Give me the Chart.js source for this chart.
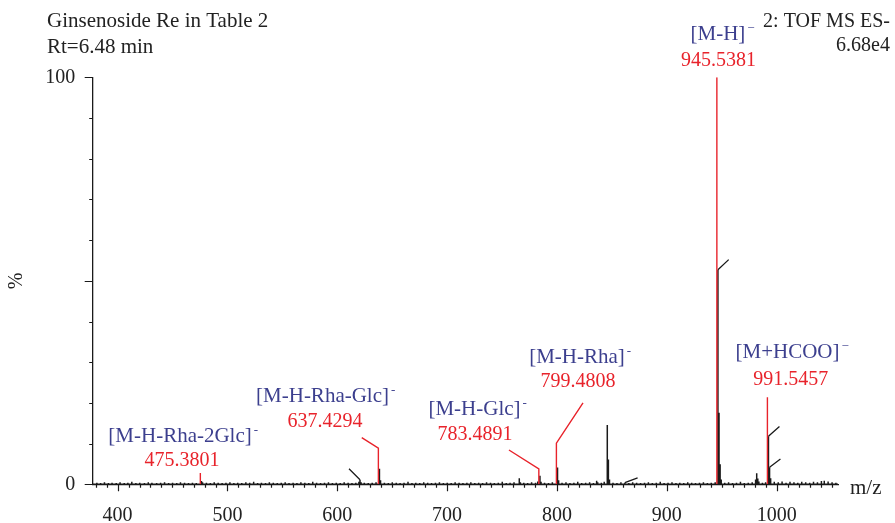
<!DOCTYPE html>
<html>
<head>
<meta charset="utf-8">
<title>Ginsenoside Re – ESI(-) TOF MS spectrum</title>
<script src="https://cdn.jsdelivr.net/npm/chart.js@4/dist/chart.umd.min.js"></script>
<style>
  html, body { margin: 0; padding: 0; background: #ffffff; }
  #spectrum { display: block; }
</style>
</head>
<body>
<canvas id="spectrum" width="895" height="523"></canvas>
<script>
// ---- Spectrum data (m/z, relative abundance %) ----
// Unlabelled centroid sticks, including baseline noise.
const peakMz = [
  381.2, 384.6, 388.1, 391.7, 395.0, 398.8, 402.3, 406.1, 409.4, 413.0,
  416.7, 420.2, 424.5, 428.0, 431.3, 435.6, 439.2, 442.8, 446.5, 450.1,
  453.9, 457.3, 461.0, 464.6, 468.2, 471.7, 476.4, 477.4, 480.9, 484.5,
  488.0, 491.6, 495.2, 498.7, 502.3, 505.9, 509.4, 513.1, 516.8, 520.3,
  523.9, 527.5, 531.0, 534.7, 538.2, 541.8, 545.4, 549.0, 552.6, 556.1,
  559.8, 563.3, 566.9, 570.5, 574.1, 577.7, 581.2, 584.8, 588.4, 592.0,
  595.6, 599.1, 602.7, 606.3, 609.9, 613.4, 616.9, 619.7, 620.7, 621.7,
  624.6, 628.2, 631.8, 635.3, 638.4, 639.4, 642.9, 646.5, 650.1, 653.7,
  657.2, 660.8, 664.4, 668.0, 671.5, 675.1, 678.7, 682.3, 685.8, 689.4,
  693.0, 696.6, 700.1, 703.7, 707.3, 710.9, 714.4, 718.0, 721.6, 725.2,
  728.7, 732.3, 735.9, 739.5, 743.0, 746.6, 750.2, 753.8, 757.3, 760.9,
  765.7, 766.7, 769.8, 773.3, 776.9, 780.5, 782.5, 784.5, 785.5, 788.7,
  792.3, 795.8, 800.5, 801.5, 804.6, 808.2, 811.8, 815.4, 818.9, 822.5,
  826.1, 829.7, 833.2, 836.1, 837.1, 840.4, 843.0, 845.8, 846.8, 847.8,
  851.0, 854.6, 858.2, 861.8, 865.4, 868.9, 872.5, 876.1, 879.7, 883.2,
  886.8, 890.4, 894.0, 897.5, 901.1, 904.7, 908.3, 911.8, 915.4, 919.0,
  922.6, 926.1, 929.7, 933.3, 936.9, 940.4, 944.0, 946.5, 947.5, 948.5,
  949.5, 952.7, 956.2, 959.8, 963.4, 967.0, 970.5, 974.1, 977.7, 980.8,
  981.8, 982.8, 983.8, 987.0, 989.9, 992.5, 993.5, 994.5, 997.8, 1001.4,
  1004.9, 1008.5, 1012.1, 1015.7, 1019.2, 1022.8, 1026.4, 1030.0, 1033.5, 1037.1,
  1040.7, 1043.3, 1046.8, 1050.4, 1053.9
];
const peakPct = [
  0.4, 0.3, 0.5, 0.3, 0.4, 0.3, 0.5, 0.3, 0.4, 0.6,
  0.3, 0.4, 0.3, 0.5, 0.4, 0.3, 0.4, 0.5, 0.3, 0.4,
  0.3, 0.5, 0.4, 0.3, 0.4, 0.3, 0.8, 0.5, 0.4, 0.3,
  0.5, 0.4, 0.3, 0.4, 0.5, 0.3, 0.4, 0.3, 0.5, 0.4,
  0.6, 0.3, 0.4, 0.3, 0.5, 0.4, 0.3, 0.4, 0.5, 0.3,
  0.4, 0.3, 0.5, 0.4, 0.3, 0.6, 0.4, 0.3, 0.4, 0.5,
  0.3, 0.4, 0.3, 0.5, 0.4, 0.3, 0.4, 0.6, 1.1, 0.5,
  0.4, 0.3, 0.4, 0.5, 3.8, 1.0, 0.4, 0.3, 0.5, 0.4,
  0.3, 0.4, 0.6, 0.3, 0.4, 0.3, 0.5, 0.4, 0.3, 0.4,
  0.5, 0.3, 0.4, 0.3, 0.5, 0.4, 0.3, 0.4, 0.5, 0.3,
  0.4, 0.3, 0.5, 0.4, 0.3, 0.4, 0.6, 0.3, 0.4, 0.5,
  1.5, 0.5, 0.4, 0.3, 0.5, 0.4, 0.7, 2.1, 0.6, 0.4,
  0.3, 0.5, 4.1, 1.0, 0.4, 0.5, 0.3, 0.4, 0.6, 0.3,
  0.4, 0.5, 0.3, 0.9, 0.5, 0.4, 0.6, 14.6, 6.1, 1.2,
  0.4, 0.3, 0.5, 0.4, 0.3, 0.5, 0.4, 0.3, 0.4, 0.5,
  0.3, 0.4, 0.6, 0.3, 0.4, 0.5, 0.3, 0.4, 0.3, 0.5,
  0.4, 0.3, 0.4, 0.5, 0.3, 0.4, 0.5, 52.7, 17.6, 4.9,
  1.2, 0.4, 0.5, 0.3, 0.4, 0.6, 0.3, 0.4, 0.5, 1.2,
  2.7, 1.4, 0.7, 0.4, 0.5, 11.8, 4.2, 1.5, 0.6, 0.5,
  0.7, 0.4, 0.6, 0.5, 0.4, 0.6, 0.5, 0.4, 0.6, 0.5,
  0.8, 0.9, 0.7, 0.5, 0.4
];

// Assigned ions (drawn in red with their m/z values)
const ionMz    = [475.3801, 637.4294, 783.4891, 799.4808, 945.5381, 991.5457];
const ionPct   = [2.8, 8.9, 3.8, 10.1, 100, 21.4];
const ionNames = ['[M-H-Rha-2Glc]', '[M-H-Rha-Glc]', '[M-H-Glc]', '[M-H-Rha]', '[M-H]', '[M+HCOO]'];
const ionCharge = ['-', '-', '-', '-', '\u2212', '\u2212'];
const ionValueText = ['475.3801', '637.4294', '783.4891', '799.4808', '945.5381', '991.5457'];

// Axis ticks
const xTickLabels = [400, 500, 600, 700, 800, 900, 1000];
const yTickLabels = [0, 100];

// ---- Callout layout (in axis units: m/z, %) ----
const callouts = [
  { leader: [475.3801, 2.8],  name: [456.9, 10.5],  value: [458.7, 4.5]  },
  { leader: [622.3, 11.45],   name: [586.6, 20.3],  value: [588.9, 14.0] },
  { leader: [756.3, 8.43],    name: [724.9, 17.0],  value: [725.4, 10.9] },
  { leader: [823.7, 20.0],    name: [818.2, 29.7],  value: [819.1, 23.8] },
  { leader: [945.5381, 100],  name: [946.5, 109.2], value: [947.0, 102.7] },
  { leader: [991.5457, 21.4], name: [1009.8, 31.0], value: [1012.8, 24.3] }
];
// Instrument label tick marks ("slashes") from a peak top
const slashes = [
  [[620.7, 1.1], [610.7, 3.8]],
  [[861.8, 0.4], [873.4, 1.6]],
  [[946.5, 52.7], [956.3, 55.2]],
  [[992.5, 11.8], [1002.5, 14.2]],
  [[993.5, 4.2], [1003.4, 6.2]]
];

const SERIF = "'Liberation Serif', 'Times New Roman', serif";
const BLUE = '#3c3f8e';
const RED = '#e8232b';
const INK = '#1a1a1a';

// Stick spectrum: each peak as baseline -> top -> baseline
const spectrumPts = [];
peakMz.forEach((m, i) => {
  spectrumPts.push({ x: m, y: 0 }, { x: m, y: peakPct[i] }, { x: m, y: 0 });
});
spectrumPts.sort((a, b) => a.x - b.x);
spectrumPts.unshift({ x: 377.4, y: 0 });
spectrumPts.push({ x: 1055.8, y: 0 });

// Assigned ions with their leader lines, separated by gaps
const ionPts = [];
ionMz.forEach((m, i) => {
  ionPts.push({ x: m, y: 0 }, { x: m, y: ionPct[i] });
  const [lm, lp] = callouts[i].leader;
  ionPts.push({ x: lm, y: lp });
  ionPts.push({ x: lm, y: null });
});

const slashPts = [];
slashes.forEach(([a, b]) => {
  slashPts.push({ x: a[0], y: a[1] }, { x: b[0], y: b[1] }, { x: b[0], y: null });
});

// Tick marks (minor every 10, longer at major values) and annotations
const decorations = {
  id: 'decorations',
  afterDraw(chart) {
    const { ctx, chartArea: ca, scales: { x, y } } = chart;
    ctx.save();
    ctx.strokeStyle = INK;
    ctx.lineWidth = 1.2;
    ctx.beginPath();
    for (let v = 380; v <= 1050; v += 10) {
      const px = Math.round(x.getPixelForValue(v)) + 0.5;
      const len = v % 100 === 0 ? 7 : 3.5;
      ctx.moveTo(px, ca.bottom);
      ctx.lineTo(px, ca.bottom + len);
    }
    for (let v = 0; v <= 100; v += 10) {
      const py = Math.round(y.getPixelForValue(v)) + 0.5;
      const len = v % 50 === 0 ? 8 : 3.5;
      ctx.moveTo(ca.left, py);
      ctx.lineTo(ca.left - len, py);
    }
    ctx.stroke();

    // Ion names and measured m/z
    ctx.textBaseline = 'alphabetic';
    callouts.forEach((c, i) => {
      const nx = x.getPixelForValue(c.name[0]);
      const ny = y.getPixelForValue(c.name[1]);
      ctx.font = `21px ${SERIF}`;
      ctx.fillStyle = BLUE;
      ctx.textAlign = 'center';
      ctx.fillText(ionNames[i], nx, ny);
      const w = ctx.measureText(ionNames[i]).width;
      ctx.font = `13px ${SERIF}`;
      ctx.textAlign = 'left';
      ctx.fillText(ionCharge[i], nx + w / 2 + 2, ny - 8);

      ctx.font = `20px ${SERIF}`;
      ctx.fillStyle = RED;
      ctx.textAlign = 'center';
      ctx.fillText(ionValueText[i], x.getPixelForValue(c.value[0]), y.getPixelForValue(c.value[1]));
    });

    // Header text
    ctx.fillStyle = '#222';
    ctx.font = `21px ${SERIF}`;
    ctx.textAlign = 'left';
    ctx.fillText('Ginsenoside Re in Table 2', 47, 27);
    ctx.fillText('Rt=6.48 min', 47, 53);
    ctx.font = `20px ${SERIF}`;
    ctx.textAlign = 'right';
    ctx.fillText('2: TOF MS ES-', 890, 27);
    ctx.fillText('6.68e4', 890, 51);
    ctx.textAlign = 'left';
    ctx.font = `21px ${SERIF}`;
    ctx.fillText('m/z', ca.right + 12, 494);
    ctx.restore();
  }
};

new Chart(document.getElementById('spectrum'), {
  type: 'scatter',
  data: {
    datasets: [
      { label: 'Assigned ions', data: ionPts, showLine: true, spanGaps: false,
        borderColor: RED, borderWidth: 1.4, pointRadius: 0, order: 0 },
      { label: 'Label marks', data: slashPts, showLine: true, spanGaps: false,
        borderColor: INK, borderWidth: 1.3, pointRadius: 0, order: 1 },
      { label: 'Spectrum', data: spectrumPts, showLine: true,
        borderColor: INK, borderWidth: 1.5, pointRadius: 0, order: 2 }
    ]
  },
  options: {
    responsive: false,
    animation: false,
    events: [],
    layout: { padding: { left: 0, top: 77.3, right: 57, bottom: 0 } },
    elements: { line: { tension: 0, borderCapStyle: 'butt' } },
    plugins: { legend: { display: false }, tooltip: { enabled: false } },
    scales: {
      x: {
        type: 'linear',
        min: 377.4,
        max: 1055.8,
        afterBuildTicks: s => { s.ticks = xTickLabels.map(v => ({ value: v })); },
        afterFit: s => { s.height = 38.7; },
        grid: { display: false, drawTicks: false },
        border: { display: true, color: INK, width: 1.3 },
        ticks: { padding: 19, maxRotation: 0, autoSkip: false, color: '#222',
                 font: { family: SERIF, size: 20 },
                 callback: v => String(v) }
      },
      y: {
        min: 0,
        max: 100,
        afterBuildTicks: s => { s.ticks = yTickLabels.map(v => ({ value: v })); },
        afterFit: s => { s.width = 92.7; },
        grid: { display: false, drawTicks: false },
        border: { display: true, color: INK, width: 1.3 },
        ticks: { padding: 17.5, color: '#222', font: { family: SERIF, size: 20 },
                 callback: v => String(v) },
        title: { display: true, text: '%', color: '#222', padding: { top: 5, bottom: 0 },
                 font: { family: SERIF, size: 20 } }
      }
    }
  },
  plugins: [decorations]
});
</script>
</body>
</html>
